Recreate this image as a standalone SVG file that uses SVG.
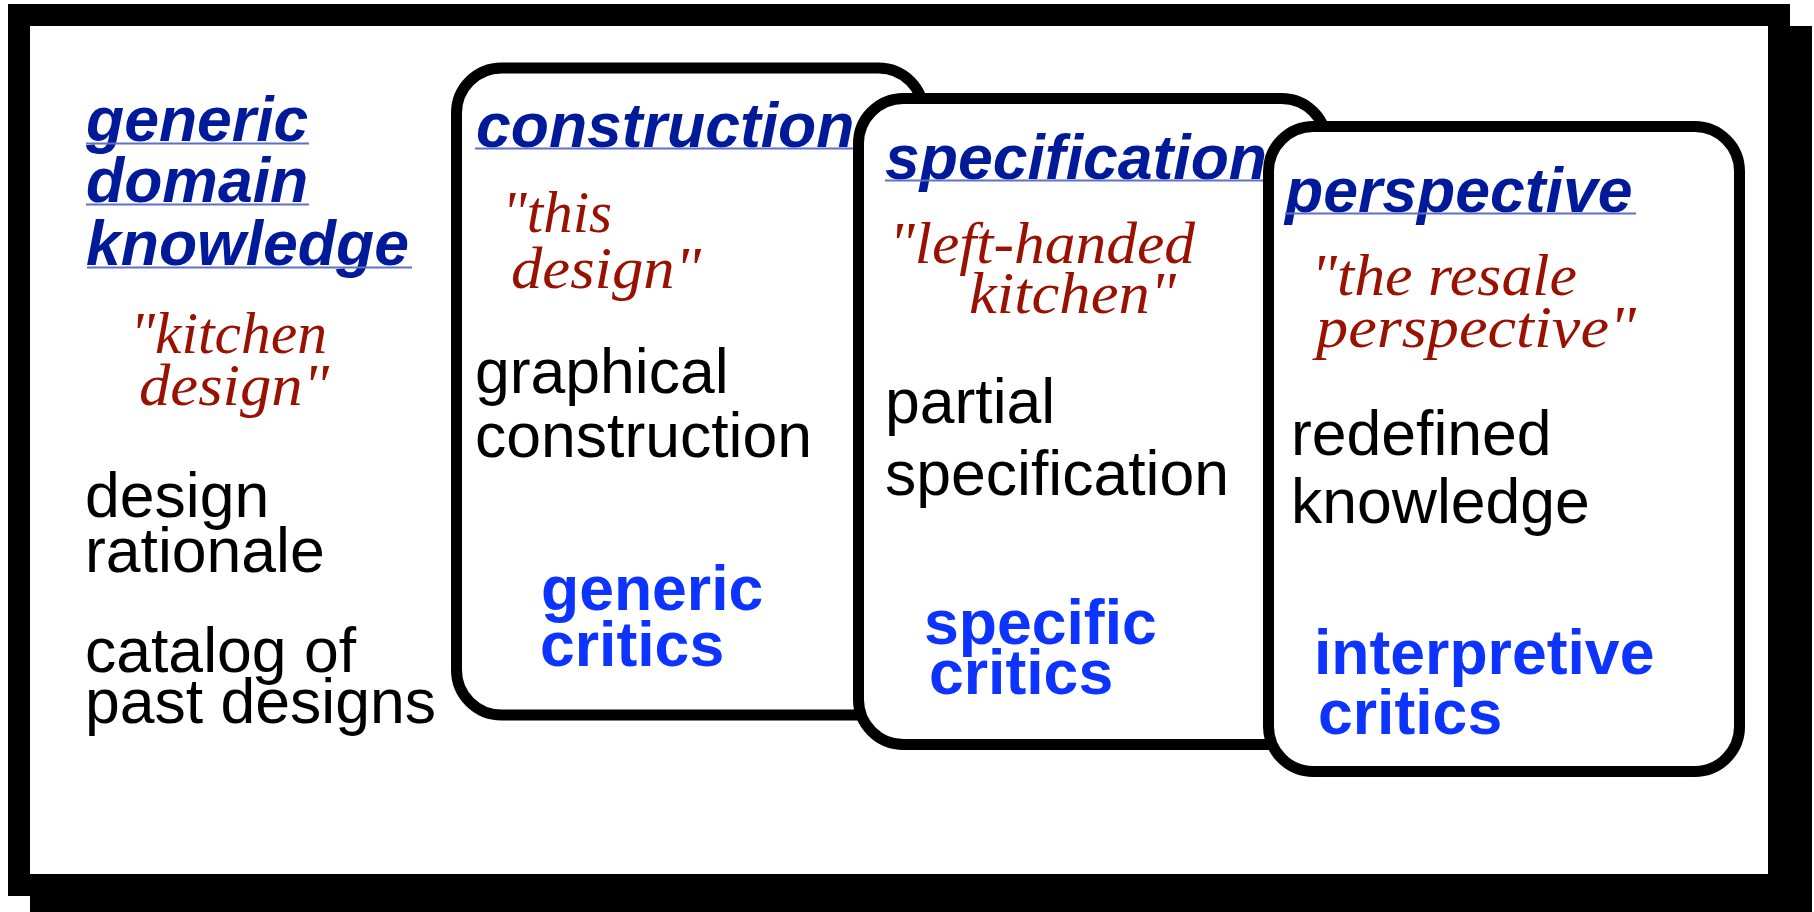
<svg xmlns="http://www.w3.org/2000/svg" width="1814" height="912" viewBox="0 0 1814 912">
<style>
.card{fill:#fff;stroke:#000;stroke-width:11}
.hd{font-family:"Liberation Sans",Arial,sans-serif;font-weight:bold;font-style:italic;font-size:62.5px;fill:#001a99}
.ul{stroke:#5f70c9;stroke-width:2}
.q{font-family:"Liberation Serif","Times New Roman",serif;font-style:italic;font-size:59px;fill:#991100}
.bk{font-family:"Liberation Sans",Arial,sans-serif;font-size:62.5px;fill:#000}
.cr{font-family:"Liberation Sans",Arial,sans-serif;font-weight:bold;font-size:62.5px;fill:#0d33ff}
</style>
<g id="frame">
<rect x="30" y="26" width="1782" height="892" fill="#000"/>
<rect x="8" y="4" width="1782" height="892" fill="#000"/>
<rect x="30" y="26" width="1738" height="848" fill="#fff"/>
</g>
<g id="generic-domain-knowledge">
<text class="hd" x="86" y="141">generic</text>
<text class="hd" x="86" y="202">domain</text>
<text class="hd" x="86" y="265">knowledge</text>
<line class="ul" x1="86" y1="143.5" x2="309" y2="143.5"/>
<line class="ul" x1="86" y1="204.5" x2="309" y2="204.5"/>
<line class="ul" x1="87" y1="267.5" x2="412" y2="267.5"/>
<text class="q" x="130" y="353" textLength="197" lengthAdjust="spacingAndGlyphs">"kitchen</text>
<text class="q" x="139" y="405" textLength="190" lengthAdjust="spacingAndGlyphs">design"</text>
<text class="bk" x="85" y="517">design</text>
<text class="bk" x="85" y="572">rationale</text>
<text class="bk" x="85" y="672">catalog of</text>
<text class="bk" x="85" y="723">past designs</text>
</g>
<g id="construction">
<rect class="card" x="456.5" y="68" width="467" height="647" rx="45" ry="45"/>
<text class="hd" x="476" y="147">construction</text>
<line class="ul" x1="475" y1="148.5" x2="853" y2="148.5"/>
<text class="q" x="502" y="232" textLength="110" lengthAdjust="spacingAndGlyphs">"this</text>
<text class="q" x="511" y="288" textLength="190" lengthAdjust="spacingAndGlyphs">design"</text>
<text class="bk" x="475" y="393">graphical</text>
<text class="bk" x="475" y="457">construction</text>
<text class="cr" x="541" y="610">generic</text>
<text class="cr" x="540" y="666">critics</text>
</g>
<g id="specification">
<rect class="card" x="858.5" y="98.5" width="468" height="646" rx="45" ry="45"/>
<text class="hd" x="885" y="179">specification</text>
<line class="ul" x1="885" y1="180.5" x2="1268" y2="180.5"/>
<text class="q" x="889" y="263" textLength="306" lengthAdjust="spacingAndGlyphs">"left-handed</text>
<text class="q" x="969" y="313" textLength="207" lengthAdjust="spacingAndGlyphs">kitchen"</text>
<text class="bk" x="885" y="423">partial</text>
<text class="bk" x="885" y="495">specification</text>
<text class="cr" x="924" y="644">specific</text>
<text class="cr" x="929" y="694">critics</text>
</g>
<g id="perspective">
<rect class="card" x="1268.5" y="126.5" width="471" height="645" rx="45" ry="45"/>
<text class="hd" x="1285" y="212">perspective</text>
<line class="ul" x1="1285" y1="213.5" x2="1636" y2="213.5"/>
<text class="q" x="1311" y="295" textLength="266" lengthAdjust="spacingAndGlyphs">"the resale</text>
<text class="q" x="1316" y="347" textLength="320" lengthAdjust="spacingAndGlyphs">perspective"</text>
<text class="bk" x="1291" y="455">redefined</text>
<text class="bk" x="1291" y="523">knowledge</text>
<text class="cr" x="1314" y="674">interpretive</text>
<text class="cr" x="1318" y="734">critics</text>
</g>
<g id="connectors"/>
</svg>
